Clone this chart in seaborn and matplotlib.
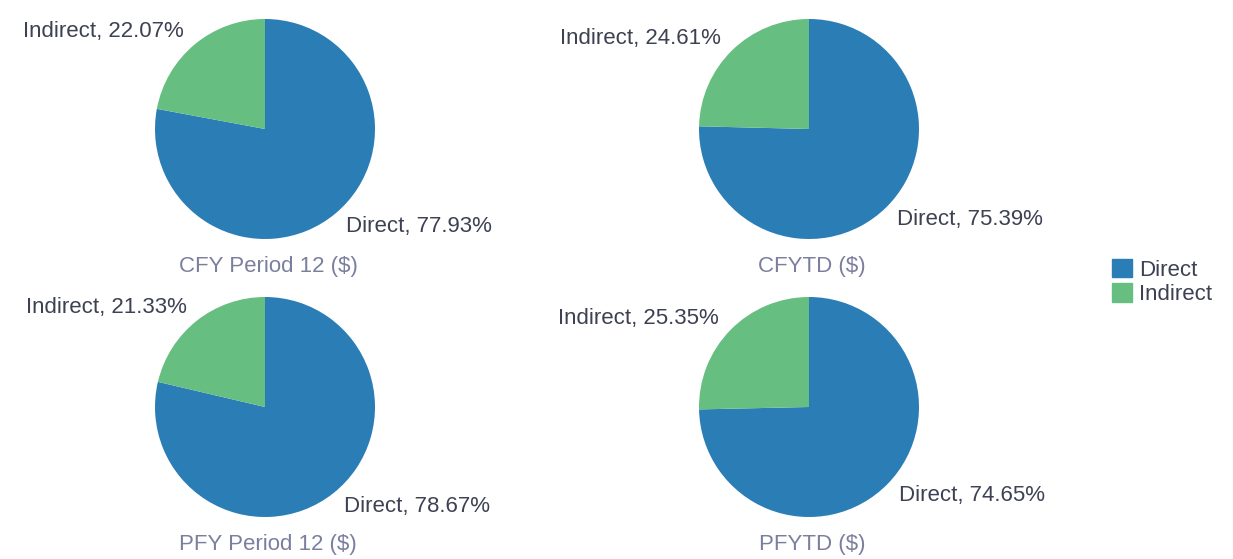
import numpy as np
import matplotlib
matplotlib.use("Agg")
import matplotlib.pyplot as plt
import matplotlib.patches as mpatches
import seaborn as sns

# datos
categorias = ["Direct", "Indirect"]
titulos = ["CFY Period 12 ($)", "CFYTD ($)", "PFY Period 12 ($)", "PFYTD ($)"]
direct_pct = [77.93, 75.39, 78.67, 74.65]
indirect_pct = [22.07, 24.61, 21.33, 25.35]

sns.set_theme(style="white")
plt.rcParams['font.family'] = ['Liberation Sans', 'DejaVu Sans']

colores = ["#2a7db5", "#66bf80"]
color_label = "#3d4152"
color_titulo = "#7b7f9e"

W, H = 1233, 559
fig = plt.figure(figsize=(W / 100, H / 100), dpi=100)

# centros de cada pie en pixeles (x, y desde arriba), radio 110 px
centros = [(265, 129), (809, 129), (265, 407), (809, 407)]
r = 110
half = 1.5 * r

for i, (cx, cy) in enumerate(centros):
    ax = fig.add_axes([(cx - half) / W, (H - cy - half) / H, 2 * half / W, 2 * half / H])
    vals = [direct_pct[i], indirect_pct[i]]
    labels = [f"{c}, {v:.2f}%" for c, v in zip(categorias, vals)]
    wedges, texts = ax.pie(vals, labels=labels, colors=colores, startangle=90,
                           counterclock=False, radius=1, labeldistance=1.15,
                           wedgeprops=dict(linewidth=0),
                           textprops=dict(fontsize=16, color=color_label))
    ax.text(0.03, -1.25, titulos[i], ha="center", va="center", fontsize=16, color=color_titulo)
    ax.set_xlim(-1.5, 1.5)
    ax.set_ylim(-1.5, 1.5)
    ax.set_aspect("equal")
    ax.axis("off")

# leyenda
handles = [mpatches.Patch(color=c, label=l) for c, l in zip(colores, categorias)]
fig.legend(handles=handles, loc="upper left", bbox_to_anchor=(1092 / W, 1 - 239 / H),
           frameon=False, fontsize=16, handlelength=0.9, handleheight=0.9,
           handletextpad=0.3, labelspacing=0.1, labelcolor=color_label)

fig.savefig("out.png", dpi=100)
